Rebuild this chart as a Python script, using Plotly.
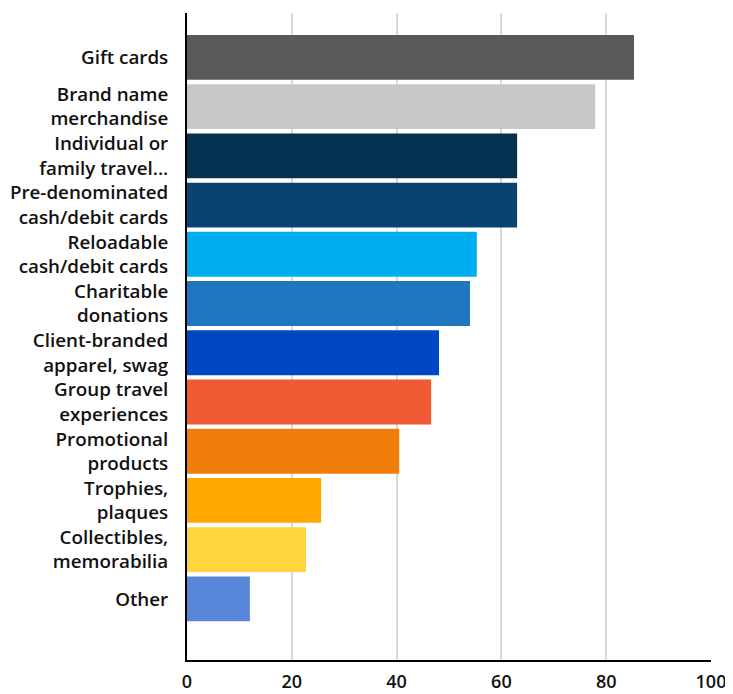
import plotly.graph_objects as go

categories = [
    "Gift cards", "Brand name<br>merchandise", "Individual or<br>family travel...",
    "Pre-denominated<br>cash/debit cards", "Reloadable<br>cash/debit cards",
    "Charitable<br>donations", "Client-branded<br>apparel, swag",
    "Group travel<br>experiences", "Promotional<br>products", "Trophies,<br>plaques",
    "Collectibles,<br>memorabilia", "Other",
]
values = [85.3, 77.9, 63.0, 63.0, 55.3, 54.0, 48.1, 46.6, 40.5, 25.6, 22.7, 12.0]
colors = ["#58595b", "#c7c8ca", "#063251", "#0a4371", "#00aeef", "#1f75be",
          "#0047c2", "#f05a35", "#f07e0a", "#ffa800", "#ffd43f", "#5886d9"]
x_ticks = [0, 20, 40, 60, 80, 100]

fig = go.Figure(go.Bar(
    x=values, y=categories, orientation="h",
    marker=dict(color=colors, line=dict(width=0)),
    width=0.91,
))

# page body has an 8px default margin, so the figure is shifted by 8px
fig.update_layout(
    width=725, height=686,
    margin=dict(l=179, r=22, t=5, b=34),
    plot_bgcolor="white", paper_bgcolor="white",
    font=dict(family="Open Sans", size=16, color="#111111"),
    showlegend=False,
    bargap=0.09,
)
fig.update_xaxes(
    range=[0, 100], tickvals=x_ticks, showgrid=True, gridcolor="#d9d9d9", gridwidth=2,
    showline=True, linecolor="black", linewidth=2, zeroline=False,
    ticks="outside", ticklen=4, tickcolor="rgba(0,0,0,0)", automargin=False,
    tickfont=dict(family="Open Sans", size=18, weight=600, color="#111111"),
)
fig.update_yaxes(
    categoryorder="array", categoryarray=categories,
    range=[12.24, -0.9],
    showline=True, linecolor="black", linewidth=2, showgrid=False,
    ticks="outside", ticklen=13, tickcolor="rgba(0,0,0,0)", automargin=False,
    tickfont=dict(family="Open Sans", size=18.8, weight=600, color="#111111"),
)

fig.write_html("out.html")
